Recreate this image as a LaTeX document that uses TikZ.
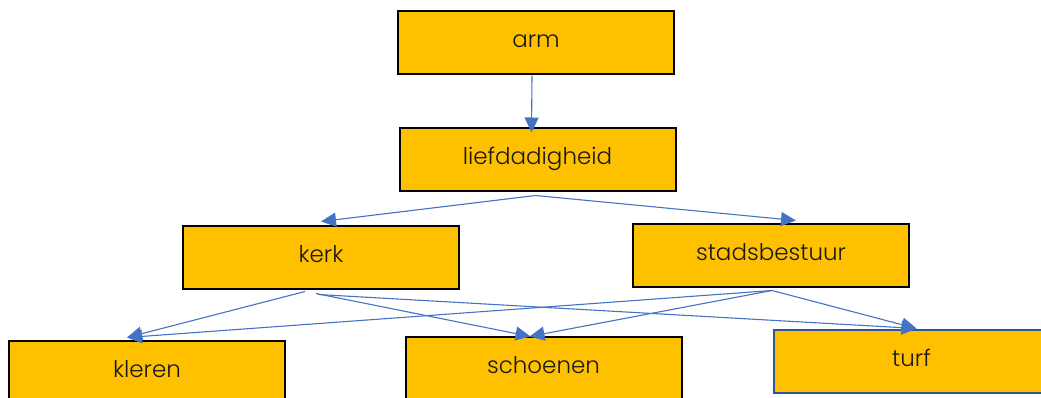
\documentclass[tikz,border=0pt]{standalone}
\usepackage{fontspec}
\setmainfont{Poppins}[UprightFont=* Light]
\usetikzlibrary{arrows.meta}
\definecolor{boxfill}{HTML}{FFC000}
\definecolor{arrowblue}{HTML}{4472C4}
\definecolor{turfline}{HTML}{2F5597}
\begin{document}
\begin{tikzpicture}[x=1pt,y=-1pt]
\tikzstyle{box}=[draw=black,line width=2pt,fill=boxfill,minimum width=276pt,minimum height=63pt,inner sep=0pt,text height=17pt,text depth=7pt,font=\fontsize{23}{26}\selectfont,text=black!90]
\tikzstyle{link}=[draw=arrowblue,line width=1.1pt,-{Triangle[length=15pt,width=14pt]}]
\useasboundingbox (0,0) rectangle (1041,398);
\clip (0,0) rectangle (1041,398);
\path (536,43) node[box](arm){arm};
\path (537.5,160) node[box](lief){liefdadigheid};
\path (321,257) node[box](kerk){kerk} (771,255) node[box](stads){stadsbestuur};
\path (147,372) node[box](kleren){kleren} (543.5,368) node[box](schoenen){schoenen};
\path (911.5,361) node[box,draw=turfline](turf){turf};
\draw[link] ([xshift=-4pt]arm.south) -- ([xshift=-6pt,yshift=-5pt]lief.north);
\draw[link] ([xshift=-2pt,yshift=-3pt]lief.south) -- ([yshift=3pt]kerk.north);
\draw[link] ([xshift=-2pt,yshift=-3pt]lief.south) -- ([xshift=25pt,yshift=2pt]stads.north);
\draw[link] ([xshift=-16pt,yshift=-2pt]kerk.south) -- ([xshift=-20pt,yshift=2pt]kleren.north);
\draw[link] ([xshift=-5pt,yshift=-4pt]kerk.south) -- ([xshift=-13pt,yshift=-1pt]schoenen.north);
\draw[link] ([xshift=-3pt,yshift=-5pt]kerk.south) -- ([xshift=5pt]turf.north);
\draw[link] ([xshift=1pt,yshift=-3pt]stads.south) -- ([xshift=-20pt,yshift=2pt]kleren.north);
\draw[link] ([xshift=1pt,yshift=-3pt]stads.south) -- ([xshift=-14pt,yshift=-1pt]schoenen.north);
\draw[link] ([xshift=1pt,yshift=-3pt]stads.south) -- ([xshift=5pt]turf.north);
\end{tikzpicture}
\end{document}
